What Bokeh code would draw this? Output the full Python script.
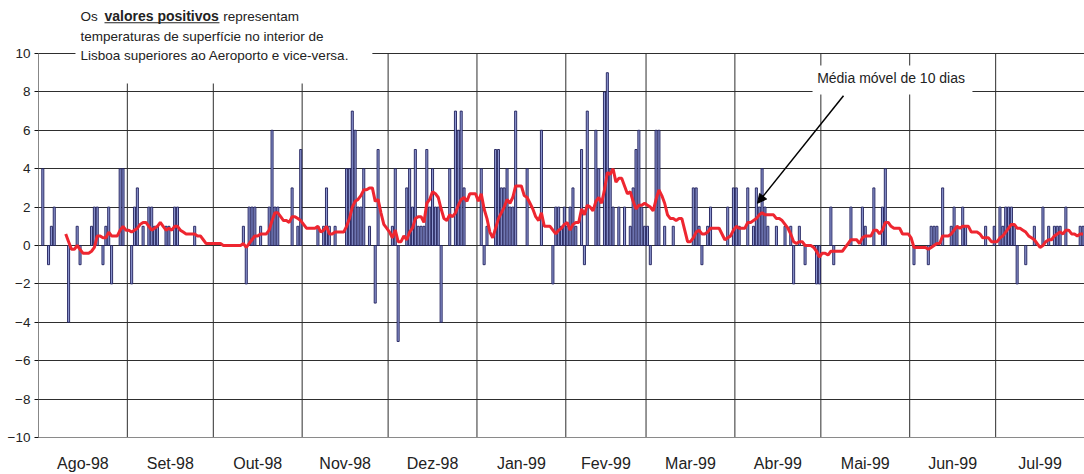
import numpy as np
import pandas as pd
from bokeh.plotting import figure
from bokeh.models import Range1d, FixedTicker, Arrow, NormalHead, ColumnDataSource
from bokeh.core.properties import value
from bokeh.embed import file_html
from bokeh.resources import INLINE

# Daily differences (interior de Lisboa - Aeroporto), one list per month, Aug 1998 .. Jul 1999
ago_98 = [0, 4, 0, -1, 1, 2, 0, 0, 0, 0, -4, 0, 0, 1, -1, 0, 0, 0, 1, 2, 2, 0, -1, 1, 2, -2, 0, 0, 4, 4, 0]
set_98 = [0, -2, 2, 3, 0, 1, 0, 2, 2, 1, 1, 0, 0, 1, 1, 0, 2, 2, 0, 0, 0, 0, 0, 1, 0, 0, 0, 0, 0, 0]
out_98 = [0, 0, 0, 0, 0, 0, 0, 0, 0, 0, 1, -2, 2, 2, 2, 0, 1, 0, 0, 2, 6, 2, 2, 0, 0, 0, 0, 3, 0, 1, 5]
nov_98 = [0, 0, 0, 0, 0, 1, 0, 1, 3, 1, 0, 1, 0, 0, 0, 4, 4, 7, 6, 2, 2, 4, 0, 1, 0, -3, 5, 0, 0, 0]
dez_98 = [0, 1, 4, -5, 0, 0, 3, 4, 2, 5, 1, 1, 1, 5, 2, 4, 2, 2, -4, 0, 0, 4, 0, 7, 6, 7, 3, 0, 0, 0, 0]
jan_99 = [0, 4, -1, 1, 0, 0, 5, 5, 3, 3, 4, 2, 2, 7, 0, 0, 0, 4, 0, 0, 0, 0, 6, 0, 0, 0, -2, 2, 2, 1, 2]
fev_99 = [1, 2, 3, 1, 0, 5, -1, 7, 0, 0, 6, 4, 0, 8, 9, 4, 2, 0, 2, 0, 2, 0, 1, 3, 5, 6, 2, 1]
mar_99 = [1, -1, 0, 6, 6, 0, 1, 0, 0, 1, 0, 0, 0, 0, 0, 0, 3, 3, 1, -1, 0, 1, 2, 0, 0, 0, 0, 0, 2, 0, 3]
abr_99 = [3, 1, 0, 0, 3, 0, 1, 3, 2, 4, 2, 1, 0, 0, 1, 0, 0, 1, 0, 1, -2, 0, 1, 0, -1, 0, 0, 0, -2, -2]
mai_99 = [0, 0, 0, 2, -1, 0, 0, 0, 0, 0, 2, 0, 0, 0, 2, 1, 0, 0, 3, 0, 0, 2, 4, 0, 0, 0, 0, 0, 0, 0, 0]
jun_99 = [0, -1, 0, 0, 0, 0, -1, 1, 1, 1, 0, 3, 0, 0, 1, 2, 1, 0, 2, 1, 0, 0, 0, 0, 0, 0, 1, 0, 0, 1]
jul_99 = [0, 2, 1, 2, 2, 2, 1, -2, 0, 0, -1, 0, 0, 1, 0, 0, 2, 0, 1, 0, 1, 1, 1, 0, 2, 0, 0, 0, 0, 1, 1]

month_labels = ["Ago-98", "Set-98", "Out-98", "Nov-98", "Dez-98", "Jan-99",
                "Fev-99", "Mar-99", "Abr-99", "Mai-99", "Jun-99", "Jul-99"]
y_ticks = [-10, -8, -6, -4, -2, 0, 2, 4, 6, 8, 10]
ma_window = 10

months = [ago_98, set_98, out_98, nov_98, dez_98, jan_99, fev_99, mar_99, abr_99, mai_99, jun_99, jul_99]
vals = np.array([v for m in months for v in m], dtype=float)
n_days = len(vals)
day = np.arange(n_days) + 0.5
lengths = [len(m) for m in months]
starts = np.concatenate([[0], np.cumsum(lengths)])
mids = [(starts[i] + starts[i + 1]) / 2 for i in range(len(months))]

ma = pd.Series(vals).rolling(ma_window).mean().to_numpy()

p = figure(width=1084, height=474, x_range=Range1d(0, n_days), y_range=Range1d(-10, 12.76),
           output_backend="svg", toolbar_location=None,
           min_border_left=38, min_border_right=0, min_border_top=0, min_border_bottom=36)
p.outline_line_color = None
p.background_fill_color = "white"
p.border_fill_color = "white"

GRID = "#2e2e2e"
FONT = "Liberation Sans"

# grid
p.xgrid.grid_line_color = None
p.ygrid.ticker = FixedTicker(ticks=y_ticks)
p.ygrid.grid_line_color = GRID
p.ygrid.grid_line_width = 1

# month boundary lines
bounds = list(starts[1:-1])
p.segment(x0=bounds, y0=[-10] * len(bounds), x1=bounds, y1=[10] * len(bounds),
          line_color=GRID, line_width=1)
# y axis line
p.segment(x0=[0], y0=[-10], x1=[0], y1=[10], line_color="#111111", line_width=1)

# y axis
yax = p.yaxis[0]
yax.ticker = FixedTicker(ticks=y_ticks)
yax.axis_line_color = None
yax.major_tick_out = 4
yax.major_tick_in = 0
yax.minor_tick_line_color = None
yax.major_tick_line_color = "#111111"
yax.major_label_text_font = FONT
yax.major_label_text_font_size = "13.5px"
yax.major_label_text_color = "#222222"
yax.major_label_standoff = 4

# x axis
xax = p.xaxis[0]
xax.ticker = FixedTicker(ticks=mids)
xax.major_label_overrides = {m: lab for m, lab in zip(mids, month_labels)}
xax.axis_line_color = "#8a8a8a"
xax.major_tick_line_color = None
xax.minor_tick_line_color = None
xax.major_label_text_font = FONT
xax.major_label_text_font_size = "16px"
xax.major_label_text_color = "#222222"
xax.major_label_standoff = 11

# bars
mask = vals != 0
src = ColumnDataSource(dict(x=day[mask], top=vals[mask]))
p.vbar(x="x", top="top", bottom=0, width=0.72, source=src,
       fill_color="#8e98d2", line_color="#1e1e5a", line_width=0.9)

# moving average
okm = ~np.isnan(ma)
p.line(day[okm], ma[okm], line_color="#ee2630", line_width=3)

# top-left note box
p.quad(left=[12.9], right=[116.5], bottom=[8.44], top=[13.0], fill_color="white", line_color=None)
tf = value(FONT)
fs = value("13.5px")
p.text(x=[14.65], y=[11.93], text=["Os"], text_font=tf, text_font_size=fs,
       text_baseline="middle", text_color="#222222")
p.text(x=[23.03], y=[11.93], text=["valores positivos"], text_font=tf, text_font_size=value("14px"),
       text_font_style="bold", text_baseline="middle", text_color="#222222")
p.segment(x0=[23.03], y0=[11.6], x1=[63.15], y1=[11.6], line_color="#222222", line_width=1.2)
p.text(x=[64.45], y=[11.93], text=["representam"], text_font=tf, text_font_size=fs,
       text_baseline="middle", text_color="#222222")
p.text(x=[14.65, 14.65], y=[10.86, 9.87],
       text=["temperaturas de superfície no interior de",
             "Lisboa superiores ao Aeroporto e vice-versa."],
       text_font=tf, text_font_size=fs, text_baseline="middle", text_color="#222222")

# moving-average note
p.quad(left=[270.1], right=[325.9], bottom=[7.865], top=[9.375], fill_color="white", line_color=None)
p.text(x=[271.7], y=[8.72], text=["Média móvel de 10 dias"], text_font=tf,
       text_font_size=value("14px"), text_baseline="middle", text_color="#222222")
p.add_layout(Arrow(end=NormalHead(size=9, fill_color="black", line_color="black"),
                   x_start=280.9, y_start=7.8, x_end=250.9, y_end=2.2,
                   line_color="black", line_width=1.5))

open("out.html", "w").write(file_html(p, INLINE))
